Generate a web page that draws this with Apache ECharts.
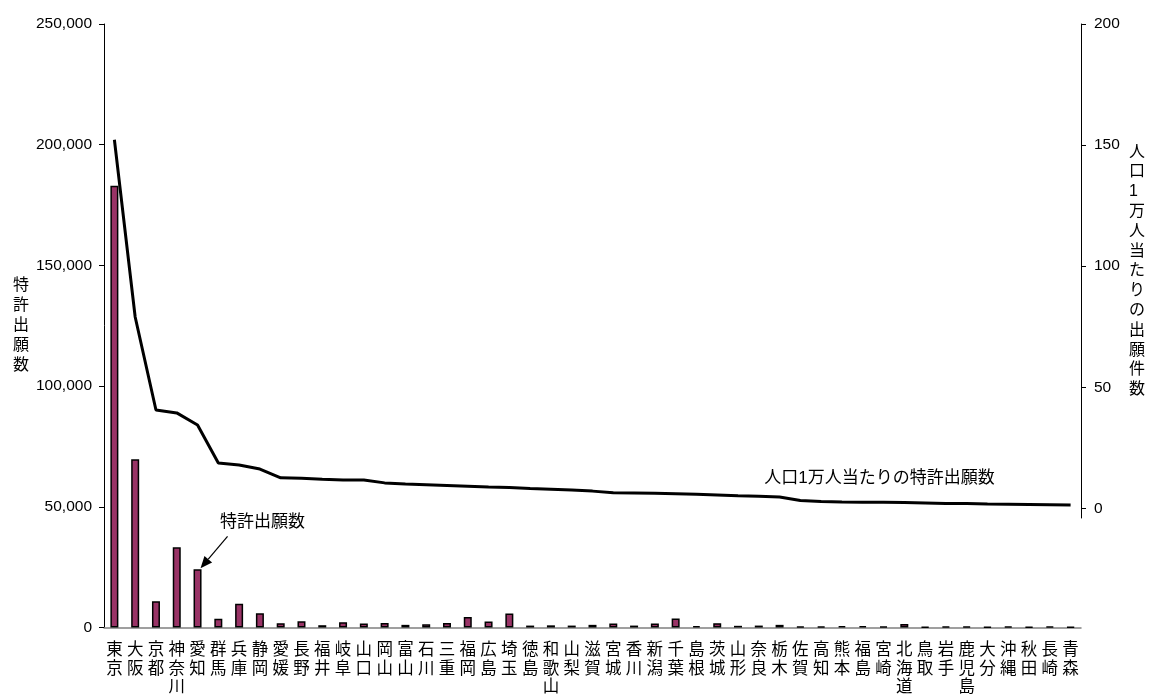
<!DOCTYPE html>
<html>
<head>
<meta charset="utf-8">
<script src="https://cdn.jsdelivr.net/npm/echarts@6/dist/echarts.min.js"></script>
<style>
  html, body { margin: 0; padding: 0; background: #fff; }
  #main { width: 1150px; height: 697px; }
</style>
</head>
<body>
<div id="main"></div>
<script>
// 都道府県別 特許出願数 と 人口1万人当たりの特許出願数

var prefs = ['東京', '大阪', '京都', '神奈川', '愛知', '群馬', '兵庫', '静岡', '愛媛', '長野',
	'福井', '岐阜', '山口', '岡山', '富山', '石川', '三重', '福岡', '広島', '埼玉',
	'徳島', '和歌山', '山梨', '滋賀', '宮城', '香川', '新潟', '千葉', '島根', '茨城',
	'山形', '奈良', '栃木', '佐賀', '高知', '熊本', '福島', '宮崎', '北海道', '鳥取',
	'岩手', '鹿児島', '大分', '沖縄', '秋田', '長崎', '青森'];

// 特許出願数（左軸）
var applications = [183000, 69700, 10900, 33200, 24100, 3600, 9800, 5900, 1800, 2600,
	950, 2200, 1650, 1900, 1100, 1300, 1900, 4400, 2500, 5800,
	800, 900, 800, 1100, 1650, 800, 1650, 3700, 550, 1800,
	700, 800, 1100, 400, 400, 550, 550, 400, 1500, 300,
	400, 400, 300, 400, 300, 400, 300];

// 人口1万人当たりの特許出願数（右軸）
var perCapita = [152.2, 79, 40.6, 39.4, 34.4, 18.7, 17.9, 16.2, 12.6, 12.4,
	12.0, 11.7, 11.7, 10.5, 10.0, 9.7, 9.4, 9.1, 8.8, 8.6,
	8.2, 7.9, 7.6, 7.1, 6.4, 6.3, 6.2, 6.0, 5.8, 5.5,
	5.2, 5.0, 4.7, 3.2, 2.8, 2.6, 2.5, 2.5, 2.4, 2.2,
	2.0, 2.0, 1.8, 1.7, 1.6, 1.5, 1.4];

var rightTicks = [0, 50, 100, 150, 200];

var FONT = '"Liberation Sans", "Noto Sans CJK JP", sans-serif';

function comma(v) {
	return String(v).replace(/\B(?=(\d{3})+(?!\d))/g, ',');
}
function vertical(s) {
	return s.split('').join('\n');
}

var chart = echarts.init(document.getElementById('main'));

var option = {
	animation : false,
	textStyle : { fontFamily : FONT, color : '#000' },
	grid : [
		{ left : 104, right : 69, top : 24, bottom : 68 },
		// 折れ線用：右軸は 0 のすぐ下で終わる
		{ left : 104, right : 69, top : 24, bottom : 179 }
	],
	xAxis : [{
		type : 'category',
		gridIndex : 0,
		data : prefs,
		axisLine : { lineStyle : { color : '#808080', width : 1.5 } },
		axisTick : { show : false },
		axisLabel : {
			interval : 0,
			margin : 14,
			fontSize : 16.5,
			lineHeight : 18.5,
			color : '#000',
			fontFamily : FONT,
			formatter : vertical
		}
	}, {
		type : 'category',
		gridIndex : 1,
		data : prefs,
		show : false
	}],
	yAxis : [{
		type : 'value',
		gridIndex : 0,
		min : 0,
		max : 250000,
		interval : 50000,
		name : vertical('特許出願数'),
		nameLocation : 'middle',
		nameRotate : 0,
		nameGap : 75,
		nameTextStyle : { fontSize : 16, lineHeight : 20, color : '#000', fontFamily : FONT },
		axisLine : { show : true, lineStyle : { color : '#000', width : 1 } },
		axisTick : { show : true, length : 5, lineStyle : { color : '#000' } },
		axisLabel : { fontSize : 15.5, color : '#000', margin : 12, fontFamily : FONT, formatter : comma },
		splitLine : { show : false }
	}, {
		type : 'value',
		gridIndex : 1,
		position : 'right',
		min : -4,
		max : 200,
		name : vertical('人口1万人当たりの出願件数'),
		nameLocation : 'middle',
		nameRotate : 0,
		nameGap : 48,
		nameTextStyle : { fontSize : 16, lineHeight : 19.8, color : '#000', fontFamily : FONT },
		axisLine : { show : true, lineStyle : { color : '#000', width : 1 } },
		axisTick : { show : true, length : 5, customValues : rightTicks, lineStyle : { color : '#000' } },
		axisLabel : { fontSize : 15.5, color : '#000', margin : 13, fontFamily : FONT, customValues : rightTicks },
		splitLine : { show : false }
	}],
	series : [{
		name : '特許出願数',
		type : 'bar',
		xAxisIndex : 0,
		yAxisIndex : 0,
		barWidth : 8,
		itemStyle : { color : '#993366', borderColor : '#000', borderWidth : 1.5 },
		data : applications
	}, {
		name : '人口1万人当たりの特許出願数',
		type : 'line',
		xAxisIndex : 1,
		yAxisIndex : 1,
		symbol : 'none',
		lineStyle : { color : '#000', width : 3 },
		data : perCapita
	}]
};
chart.setOption(option);

// 注記（データ位置から配置）
var tip = chart.convertToPixel({ seriesIndex : 0 }, ['愛知', applications[4]]);
tip = [tip[0] + 3, tip[1] - 1];
var start = [tip[0] + 27, tip[1] - 32];
var ang = Math.atan2(tip[1] - start[1], tip[0] - start[0]);
var hl = 12, hw = 5;
var base = [tip[0] - hl * Math.cos(ang), tip[1] - hl * Math.sin(ang)];
var head = [
	tip,
	[base[0] + hw * Math.sin(ang), base[1] - hw * Math.cos(ang)],
	[base[0] - hw * Math.sin(ang), base[1] + hw * Math.cos(ang)]
];
var lp = chart.convertToPixel({ seriesIndex : 1 }, ['宮崎', perCapita[37]]);

chart.setOption({
	graphic : [{
		type : 'line',
		shape : { x1 : start[0], y1 : start[1], x2 : base[0], y2 : base[1] },
		style : { stroke : '#000', lineWidth : 1.2 }
	}, {
		type : 'polygon',
		shape : { points : head },
		style : { fill : '#000' }
	}, {
		type : 'text',
		x : tip[0] + 62,
		y : tip[1] - 46,
		style : { text : '特許出願数', font : '17px ' + FONT, fill : '#000', align : 'center', verticalAlign : 'middle' }
	}, {
		type : 'text',
		x : lp[0] - 4,
		y : lp[1] - 24,
		style : { text : '人口1万人当たりの特許出願数', font : '17px ' + FONT, fill : '#000', align : 'center', verticalAlign : 'middle' }
	}]
});
</script>
</body>
</html>
